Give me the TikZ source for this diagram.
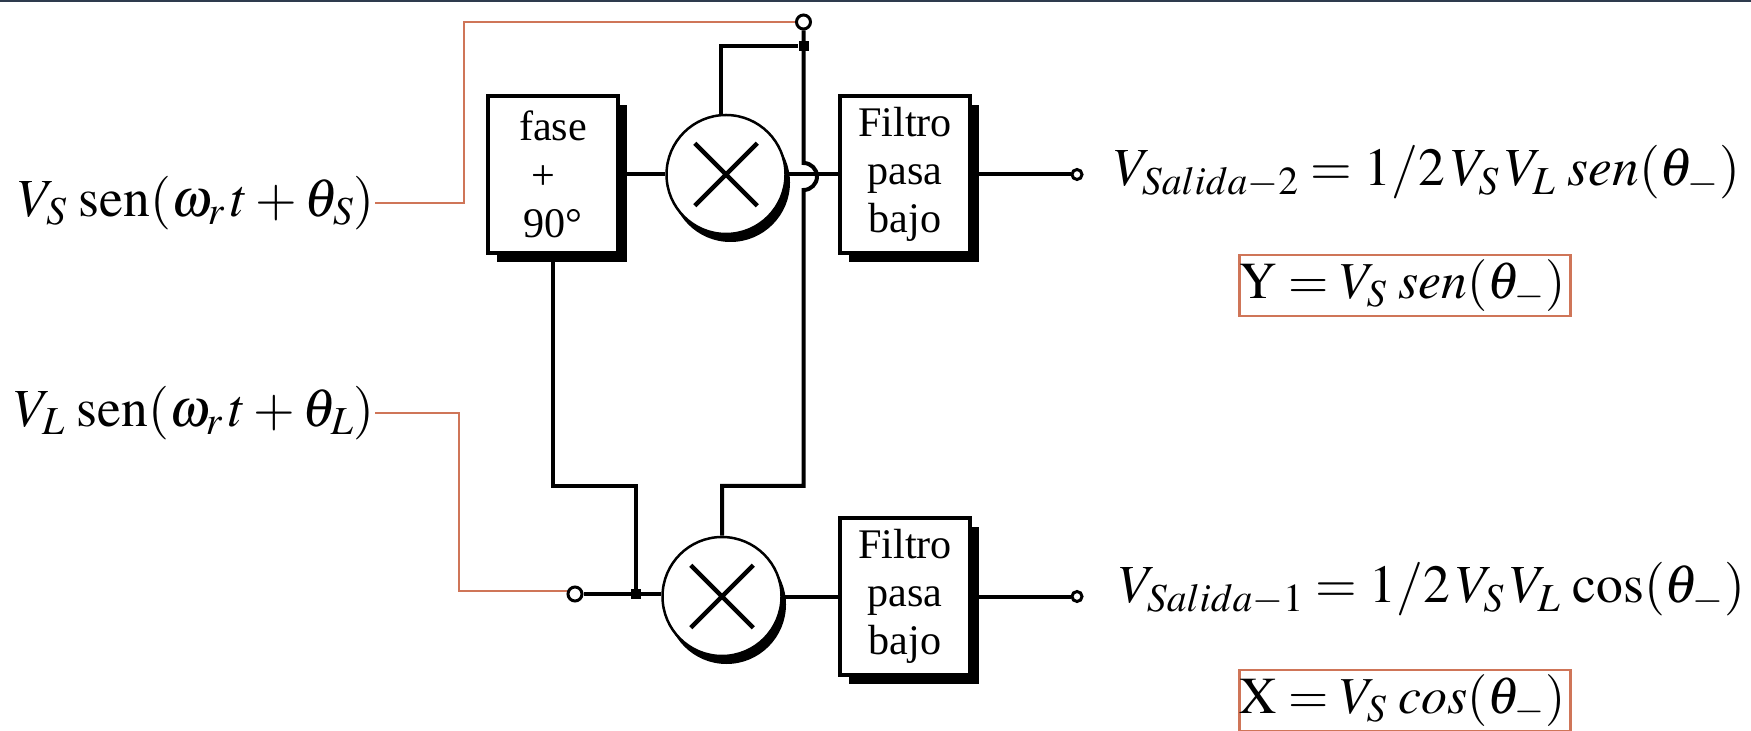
\documentclass[tikz,border=0pt]{standalone}
\usepackage{amsmath}
\usepackage{mathptmx}
\usepackage[no-math]{fontspec}
\setmainfont{Liberation Serif}
\usetikzlibrary{shapes, shadows, positioning}
\definecolor{redline}{HTML}{CF7558}
\definecolor{topband}{HTML}{2E3B4E}
\tikzstyle{block}=[draw,fill=white,rectangle,line width=.08cm,minimum width=2.6cm,minimum height=3.14cm,inner sep=0pt,align=center,font=\fontsize{24}{27.5}\selectfont,drop shadow={shadow xshift=.18cm,shadow yshift=-.18cm,opacity=1,fill=black}]
\tikzstyle{mult}=[draw,fill=white,circle,line width=.05cm,minimum size=2.38cm,inner sep=0pt,drop shadow={shadow xshift=.09cm,shadow yshift=-.16cm,opacity=1,fill=black}]
\tikzstyle{crossmark}=[draw,cross out,line width=.09cm,minimum size=1.16cm,inner sep=0pt]
\tikzstyle{term}=[draw,fill=white,circle,line width=.06cm,minimum size=.2cm,inner sep=0pt]
\tikzstyle{terminput}=[term,minimum size=.28cm]
\tikzstyle{junct}=[fill=black,rectangle,minimum size=.2cm,inner sep=0pt]
\tikzstyle{wire}=[line width=.08cm]
\tikzstyle{redwire}=[draw=redline,line width=.045cm]
\tikzstyle{eq}=[inner sep=0pt,font=\fontsize{30.5}{34}\selectfont]
\tikzstyle{resbox}=[inner sep=0pt,font=\fontsize{29.5}{33}\selectfont,draw=redline,line width=.045cm,minimum width=6.52cm,minimum height=1.22cm]
\newcommand{\sen}{\mathrm{sen}}

\begin{document}
\begin{tikzpicture}
  \useasboundingbox (0,0) rectangle (35.02,-14.62);
  \fill[topband] (0,0) rectangle (35.02,-.05);
  % upper branch
  \node[block] (fase) at (11.06,-3.49) {fase\\\hspace*{-.4cm}+\\90\textdegree};
  \node[mult, right of=fase, node distance=3.46cm] (mulA) {};
  \node[crossmark] (crossA) at (mulA) {};
  \node[block, right of=mulA, node distance=3.58cm] (filtA) {Filtro\\pasa\\bajo};
  \node[term, right of=filtA, node distance=3.44cm] (termA) {};
  % lower branch
  \node[block, below of=filtA, node distance=8.44cm] (filtB) {Filtro\\pasa\\bajo};
  \node[mult, left of=filtB, node distance=3.66cm] (mulB) {};
  \node[crossmark] (crossB) at (mulB) {};
  \node[term, right of=filtB, node distance=3.44cm] (termB) {};
  \node[junct] (juncL) at (12.72,-11.88) {};
  \node[terminput, left of=juncL, node distance=1.22cm] (termL) {};
  % reference input
  \node[terminput] (termS) at (16.07,-.44) {};
  \node[junct, below of=termS, node distance=.48cm] (juncS) {};
  \coordinate (jumpTop) at (16.07,-3.26);
  \coordinate (jumpBot) at (16.07,-3.8);
  \coordinate (busR) at (16.07,-9.72);
  \coordinate (busL) at (12.72,-9.72);
  % labels
  \node[eq, anchor=east] (labS) at (7.5,-4.06) {$V_S\,\,\sen(\omega_r\,t+\theta_S)$};
  \node[eq, anchor=east] (labL) at (7.5,-8.26) {$V_L\,\,\sen(\omega_r\,t+\theta_L)$};
  \node[eq, anchor=base west] (eqA) at (22.28,-3.72) {$V_{Salida-2}=1/2\,V_S\,V_L\,\,sen(\theta_-)$};
  \node[eq, anchor=base west] (eqB) at (22.38,-12.06) {$V_{Salida-1}=1/2\,V_S\,V_L\,\cos(\theta_-)$};
  \node[resbox] (boxY) at (28.1,-5.71) {$\mathrm{Y}=V_S\,\,sen(\theta_-)$\hspace*{.1cm}};
  \node[resbox] (boxX) at (28.1,-14.01) {$\mathrm{X}=V_S\,\,cos(\theta_-)$\hspace*{.1cm}};
  % red wires
  \coordinate (cornerS) at (9.28,-.44);
  \coordinate (cornerL) at (9.18,-11.82);
  \draw[redwire] (labS.east) -| (cornerS) -- (termS.west);
  \draw[redwire] (labL.east) -| (cornerL) -- (cornerL -| termL.west);
  % black wires
  \draw[wire] (fase.east) -- (mulA.west);
  \draw[wire] (mulA.east) -- (filtA.west);
  \draw[wire] (filtA.east) -- (termA.west);
  \draw[wire] (termS.south) -- (jumpTop) arc (90:-90:.27) -- (busR) -| (mulB.north);
  \draw[wire] (juncS) -| (mulA.95);
  \draw[wire] (fase.south) |- (busL) -- (juncL);
  \draw[wire] (termL.east) -- (juncL) -- (juncL -| mulB.west);
  \draw[wire] (mulB.east) -- (filtB.west);
  \draw[wire] (filtB.east) -- (termB.west);
\end{tikzpicture}
\end{document}
